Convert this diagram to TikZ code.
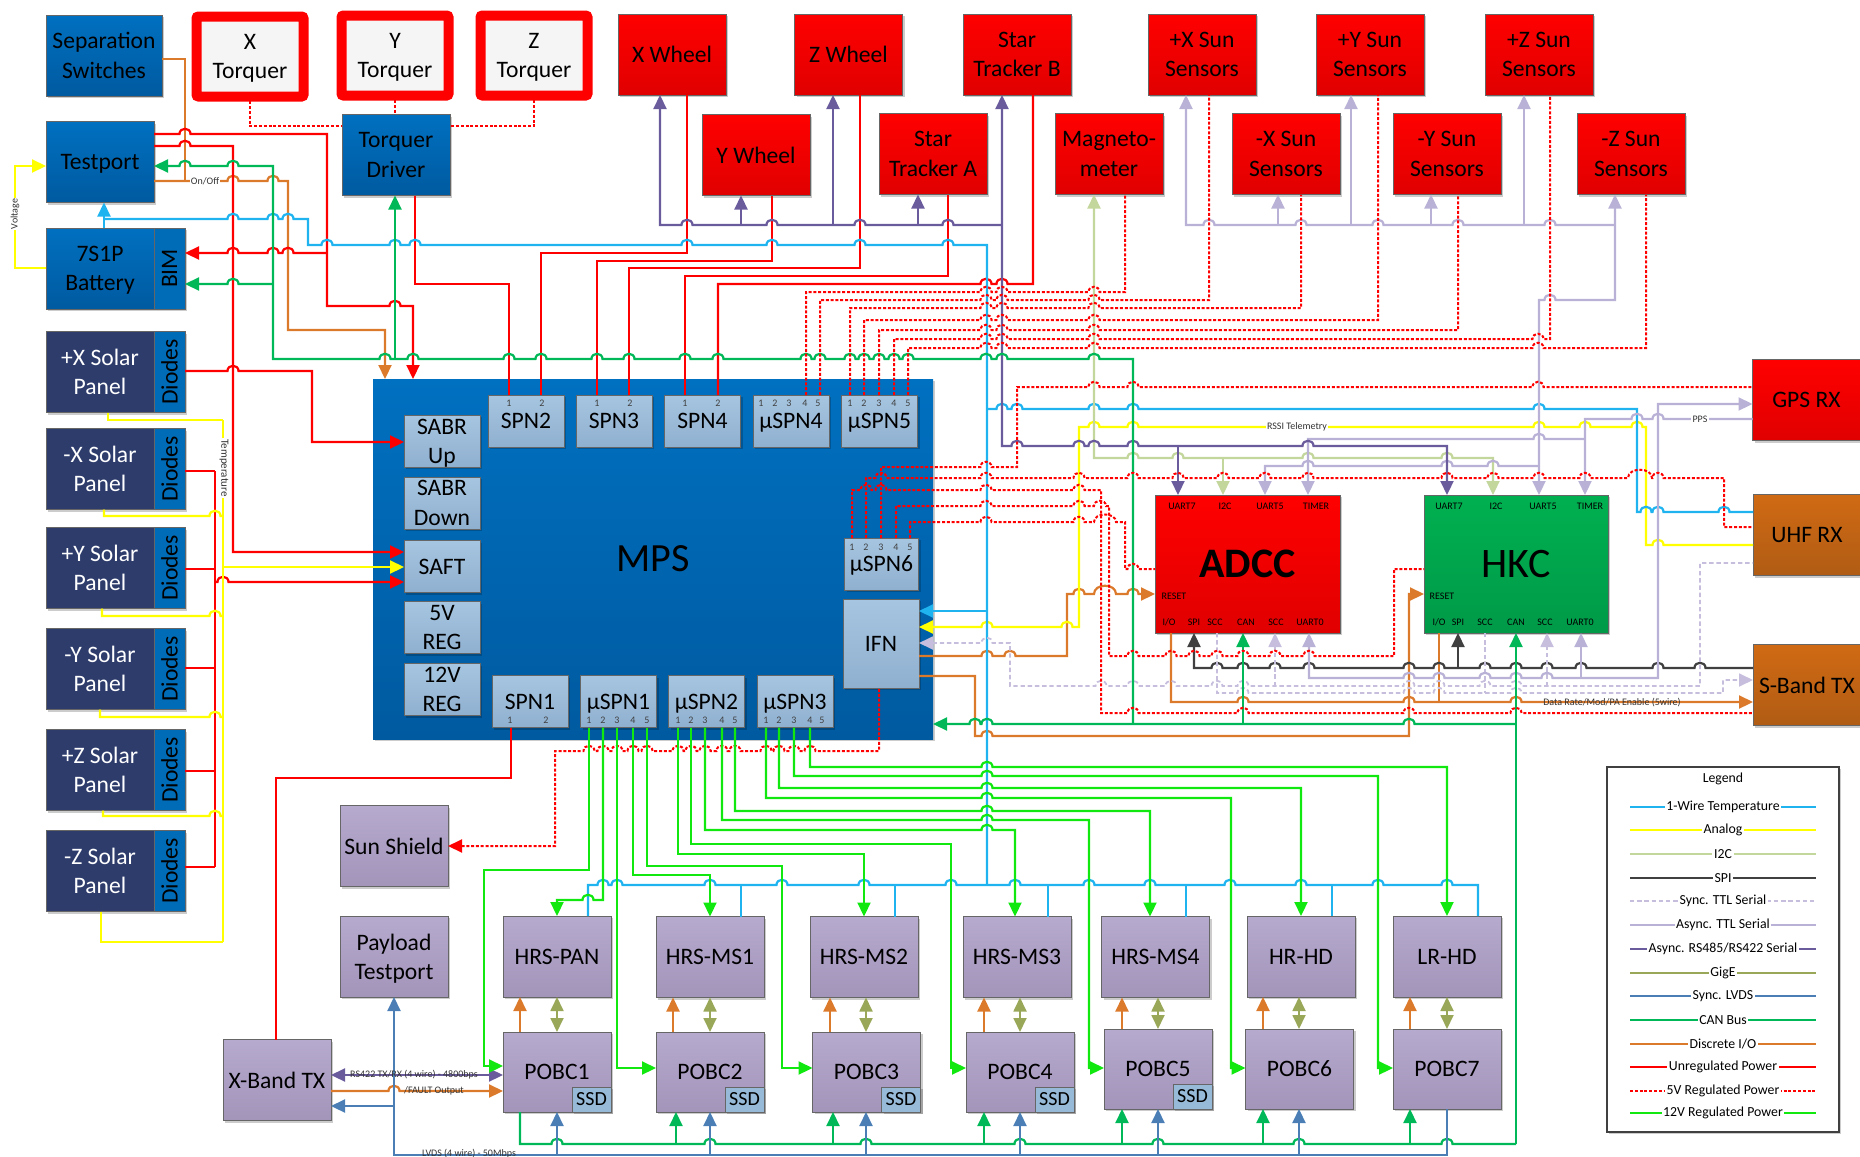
\documentclass[tikz,border=0pt]{standalone}
\usepackage{fontspec}
\setmainfont{Carlito}
\usetikzlibrary{arrows.meta, positioning, shadows}

\definecolor{tempblue}{HTML}{1FB4F0}
\definecolor{analogy}{HTML}{FFFF00}
\definecolor{itwoc}{HTML}{C3D69B}
\definecolor{spigray}{HTML}{404040}
\definecolor{synclav}{HTML}{C6BEDC}
\definecolor{asynclav}{HTML}{B9B2D6}
\definecolor{rspurple}{HTML}{6A5B9C}
\definecolor{gigeolive}{HTML}{98A858}
\definecolor{lvdsblue}{HTML}{4A7EB5}
\definecolor{canblue}{HTML}{00B858}
\definecolor{dioorange}{HTML}{DC7A2C}
\definecolor{twelvegreen}{HTML}{10E810}

\newcommand\boxfont{\fontsize{11.8}{14.6}\selectfont}
\newcommand\pinfont{\fontsize{5}{6}\selectfont}
\newcommand\hop[2]{foreach \hx in {#2} { -- (\hx-5.5,#1) .. controls (\hx-5.5,#1-7) and (\hx+5.5,#1-7) .. (\hx+5.5,#1) }}

\begin{document}
\begin{tikzpicture}[
    x=0.5pt, y=-0.5pt,
    block/.style={
        rectangle,
        draw=gray!80!black,
        line width=0.4pt,
        inner sep=0pt,
        outer sep=0pt,
        minimum width=54pt,
        minimum height=40.5pt,
        align=center,
        font=\boxfont,
        drop shadow={shadow xshift=1.2pt, shadow yshift=-1.2pt, fill=black, opacity=0.2}
    },
    redblock/.style={block, top color=red, bottom color=red!88!black},
    blueblock/.style={block, top color={rgb,255:red,0;green,112;blue,192}, bottom color={rgb,255:red,0;green,90;blue,160}},
    orangeblock/.style={block, top color={rgb,255:red,208;green,106;blue,20}, bottom color={rgb,255:red,176;green,92;blue,20}},
    purpleblock/.style={block, top color={rgb,255:red,182;green,170;blue,206}, bottom color={rgb,255:red,163;green,148;blue,186}},
    subblock/.style={block, minimum width=38pt, minimum height=26pt, top color={rgb,255:red,166;green,197;blue,224}, bottom color={rgb,255:red,144;green,176;blue,208}},
    solarblock/.style={block, fill={rgb,255:red,46;green,60;blue,108}, text=white},
    sideblock/.style={block, minimum width=15.5pt, fill={rgb,255:red,0;green,108;blue,184}},
    torquer/.style={block, fill=white!96!black, draw=red, line width=5pt, rounded corners=1pt, minimum width=53.5pt, minimum height=40pt, text depth=0pt},
    ssdblock/.style={block, minimum width=19.5pt, minimum height=12.5pt, fill={rgb,255:red,150;green,186;blue,216}, font=\fontsize{10}{12}\selectfont, anchor=south east},
    pinlabel/.style={inner sep=0pt, font=\pinfont, text=black!75},
    wirelabel/.style={inner sep=0.6pt, font=\pinfont, text=black!80},
    legendlabel/.style={inner sep=0.8pt, fill=white, font=\fontsize{6.9}{8}\selectfont},
    wire/.style={line width=1.1pt, line join=miter},
    wiretemp/.style={wire, draw=tempblue},
    wireanalog/.style={wire, draw=analogy},
    wirei2c/.style={wire, draw=itwoc},
    wirespi/.style={wire, draw=spigray},
    wiresync/.style={wire, draw=synclav, line width=0.9pt, dash pattern=on 2.2pt off 1.4pt},
    wireasync/.style={wire, draw=asynclav},
    wirers/.style={wire, draw=rspurple},
    wiregige/.style={wire, draw=gigeolive, line width=0.9pt},
    wirelvds/.style={wire, draw=lvdsblue},
    wirecan/.style={wire, draw=canblue},
    wiredio/.style={wire, draw=dioorange},
    wirepwr/.style={wire, draw=red},
    wirefive/.style={wire, draw=red, line width=1pt, dash pattern=on 1.5pt off 0.9pt},
    wiretwelve/.style={wire, draw=twelvegreen},
    endtip/.style={-{Triangle[length=7pt, width=6.5pt]}},
    starttip/.style={{Triangle[length=7pt, width=6.5pt]}-},
    bothtips/.style={{Triangle[length=7pt, width=6.5pt]}-{Triangle[length=7pt, width=6.5pt]}}
]
    \useasboundingbox (0,0) rectangle (1860,1157);

    % Nodes
    \node [blueblock, minimum width=58pt] (sepsw) at (104,55.5) {Separation\\Switches};
    \node [torquer] (tqx) at (250,56.5) {X\\Torquer};
    \node [torquer] (tqy) at (395,55.5) {Y\\Torquer};
    \node [torquer] (tqz) at (534,55.5) {Z\\Torquer};
    \node [blueblock, text depth=0pt] (testport) at (100,162) {Testport};
    \node [blueblock] (tqdriver) at (396,155) {Torquer\\Driver};
    \node [blueblock, text depth=0pt] (battery) at (100,268.5) {7S1P\\Battery};
    \node [sideblock, right=0pt of battery] (bim) {\rotatebox{90}{BIM}};

    \foreach \n/\t/\y in {xp/+X/372, xm/-X/469, yp/+Y/568, ym/-Y/669, zp/+Z/770, zm/-Z/871} {
        \node [solarblock] (solar\n) at (100,\y) {\t\ Solar\\Panel};
        \node [sideblock, right=0pt of solar\n] (diode\n) {\rotatebox{90}{Diodes}};
    }

    \node [redblock] (wheelx) at (672,54.5) {X Wheel};
    \node [redblock] (wheely) at (756,155) {Y Wheel};
    \node [redblock] (wheelz) at (848.5,54.5) {Z Wheel};
    \node [redblock] (stara) at (933,154) {Star\\Tracker A};
    \node [redblock] (starb) at (1017,54.5) {Star\\Tracker B};
    \node [redblock] (magneto) at (1109,154) {Magneto-\\meter};
    \node [redblock] (sunxp) at (1202,54.5) {+X Sun\\Sensors};
    \node [redblock] (sunxm) at (1286,154) {-X Sun\\Sensors};
    \node [redblock] (sunyp) at (1370,54.5) {+Y Sun\\Sensors};
    \node [redblock] (sunym) at (1447,154) {-Y Sun\\Sensors};
    \node [redblock] (sunzp) at (1539,54.5) {+Z Sun\\Sensors};
    \node [redblock] (sunzm) at (1631,154) {-Z Sun\\Sensors};

    \node [redblock] (gps) at (1806.5,400) {GPS RX};
    \node [orangeblock] (uhf) at (1807,535) {UHF RX};
    \node [orangeblock] (sband) at (1807,685) {S-Band TX};

    \node [redblock, minimum width=92.5pt, minimum height=69pt, font=\fontsize{21}{25}\selectfont\bfseries] (adcc) at (1247.5,564) {ADCC};
    \node [block, top color={rgb,255:red,0;green,176;blue,80}, bottom color={rgb,255:red,0;green,154;blue,72}, minimum width=92pt, minimum height=69pt, font=\fontsize{21}{25}\selectfont] (hkc) at (1516,564) {HKC};

    \node [blueblock, draw=none, minimum width=280pt, minimum height=180pt, font=\fontsize{20}{24}\selectfont] (mps) at (653,559) {MPS};
    \node [subblock, text depth=0pt] (sabrup) at (442,441) {SABR\\Up};
    \node [subblock] (sabrdown) at (442,503) {SABR\\Down};
    \node [subblock] (saft) at (442,566.5) {SAFT};
    \node [subblock] (regfive) at (442,627.5) {5V\\REG};
    \node [subblock] (regtwelve) at (442,689.5) {12V\\REG};
    \node [subblock] (spn2) at (526,421) {SPN2};
    \node [subblock] (spn3) at (614,421) {SPN3};
    \node [subblock] (spn4) at (702.5,421) {SPN4};
    \node [subblock, text depth=0pt] (uspn4) at (791,421) {µSPN4};
    \node [subblock, text depth=0pt] (uspn5) at (879.5,421) {µSPN5};
    \node [subblock, text depth=0pt, minimum width=37pt] (uspn6) at (881.5,564) {µSPN6};
    \node [subblock, minimum height=44.5pt] (ifn) at (881,643.5) {IFN};
    \node [subblock] (spn1) at (530,701.5) {SPN1};
    \node [subblock, text depth=0pt] (uspn1) at (618.5,701.5) {µSPN1};
    \node [subblock, text depth=0pt] (uspn2) at (706.5,701.5) {µSPN2};
    \node [subblock, text depth=0pt] (uspn3) at (795,701.5) {µSPN3};

    \foreach \x/\t in {509/1, 542/2, 597/1, 630/2, 685/1, 718/2, 761/1, 775/2, 789/3, 805/4, 818/5, 850/1, 864/2, 879/3, 894/4, 908/5}
        \node [pinlabel] (ptop\x) at (\x,403) {\t};
    \foreach \x/\t in {852/1, 866/2, 881/3, 896/4, 910/5}
        \node [pinlabel] (pmid\x) at (\x,547) {\t};
    \foreach \x/\t in {510/1, 546/2, 589/1, 603/2, 617/3, 633/4, 647/5, 678/1, 691/2, 705/3, 722/4, 735/5, 766/1, 779/2, 794/3, 810/4, 822/5}
        \node [pinlabel] (pbot\x) at (\x,720) {\t};

    \foreach \x/\t in {1182/UART7, 1225/I2C, 1270/UART5, 1316/TIMER, 1449/UART7, 1496/I2C, 1543/UART5, 1590/TIMER}
        \node [pinlabel, text=black] (ptop\x) at (\x,506) {\t};
    \foreach \x/\t in {1169/I\slash O, 1194/SPI, 1215/SCC, 1246/CAN, 1276/SCC, 1310/UART0, 1439/I\slash O, 1458/SPI, 1485/SCC, 1516/CAN, 1545/SCC, 1580/UART0}
        \node [pinlabel, text=black] (pbot\x) at (\x,622) {\t};
    \node [pinlabel, text=black] (adccreset) at (1174,596) {RESET};
    \node [pinlabel, text=black] (hkcreset) at (1442,596) {RESET};

    \node [purpleblock] (sunshield) at (394,846) {Sun Shield};
    \node [purpleblock, text depth=0pt] (payload) at (394,956.5) {Payload\\Testport};
    \node [purpleblock] (xband) at (277,1080) {X-Band TX};
    \node [purpleblock] (hrspan) at (557,956.5) {HRS-PAN};
    \node [purpleblock] (hrsms1) at (710,957) {HRS-MS1};
    \node [purpleblock] (hrsms2) at (864,957) {HRS-MS2};
    \node [purpleblock] (hrsms3) at (1017,957) {HRS-MS3};
    \node [purpleblock] (hrsms4) at (1155.5,957) {HRS-MS4};
    \node [purpleblock] (hrhd) at (1301,956.5) {HR-HD};
    \node [purpleblock] (lrhd) at (1447,956.5) {LR-HD};
    \node [purpleblock, minimum height=40pt] (pobc1) at (557,1072) {POBC1};
    \node [purpleblock, minimum height=40pt] (pobc2) at (710,1072) {POBC2};
    \node [purpleblock, minimum height=40pt] (pobc3) at (866.5,1072) {POBC3};
    \node [purpleblock, minimum height=40pt] (pobc4) at (1020,1072) {POBC4};
    \node [purpleblock, minimum height=40pt] (pobc5) at (1158,1069) {POBC5};
    \node [purpleblock, minimum height=40pt] (pobc6) at (1299.5,1069) {POBC6};
    \node [purpleblock, minimum height=40pt] (pobc7) at (1447,1069) {POBC7};
    \foreach \n in {1,2,3,4,5}
        \node [ssdblock] (ssd\n) at (pobc\n.south east) {SSD};

    % Discrete I/O
    \draw [wiredio] (sepsw.east |- 0,59) -- (185,59) -- (185,181);
    \draw [wiredio, endtip] (testport.east |- 0,181) \hop{181}{233,273} -- (288,181) -- (288,330) -- (385,330) -- (385,0 |- mps.north);
    \draw [wiredio, endtip] (ifn.east |- 0,656) \hop{656}{987,1010} -- (1067,656) -- (1067,594) \hop{594}{1079} -- (1094,594) .. controls (1094,583) and (1116,583) .. (1116,594) \hop{594}{1133} -- (adcc.west |- 0,594);
    \draw [wiredio, endtip] (ifn.east |- 0,676) -- (975,676) -- (975,736) \hop{736}{987} -- (1409,736) -- (1409,594) -- (hkc.west |- 0,594);
    \draw [wiredio, endtip] (1171,0 |- adcc.south) -- (1171,702) \hop{702}{1243,1409,1516} -- (sband.west |- 0,702);
    \draw [wiredio] (1439,0 |- hkc.south) -- (1439,702);
    \draw [wiredio, endtip] (xband.east |- 0,1091) \hop{1091}{394} -- (pobc1.west |- 0,1091);
    \foreach \a/\b/\x in {pobc1/hrspan/520, pobc2/hrsms1/673, pobc3/hrsms2/830, pobc4/hrsms3/984, pobc5/hrsms4/1122, pobc6/hrhd/1263, pobc7/lrhd/1410}
        \draw [wiredio, endtip] (\x,0 |- \a.north) -- (\x,0 |- \b.south);

    % GigE
    \foreach \a/\b/\x in {pobc1/hrspan/557, pobc2/hrsms1/710, pobc3/hrsms2/866, pobc4/hrsms3/1020, pobc5/hrsms4/1158, pobc6/hrhd/1299, pobc7/lrhd/1447}
        \draw [wiregige, bothtips] (\x,0 |- \a.north) -- (\x,0 |- \b.south);

    % Unregulated power
    \draw [wirepwr, endtip] (testport.east |- 0,134) \hop{134}{185} -- (327,134) -- (327,306) \hop{306}{395} -- (413,306) -- (413,0 |- mps.north);
    \draw [wirepwr, endtip] (testport.east |- 0,146) \hop{146}{185} -- (233,146) -- (233,552) -- (saft.west |- 0,552);
    \draw [wirepwr, starttip] (bim.east |- 0,253) \hop{253}{233,273,288} -- (327,253);
    \draw [wirepwr] (415,0 |- tqdriver.south) -- (415,284) -- (509,284) -- (509,0 |- spn2.north);
    \draw [wirepwr] (541,0 |- spn2.north) -- (541,253) -- (687,253) -- (687,0 |- wheelx.south);
    \draw [wirepwr] (597,0 |- spn3.north) -- (597,261) -- (772,261) -- (772,0 |- wheely.south);
    \draw [wirepwr] (629,0 |- spn3.north) -- (629,268) -- (860,268) -- (860,0 |- wheelz.south);
    \draw [wirepwr] (685,0 |- spn4.north) -- (685,276) -- (948,276) -- (948,0 |- stara.south);
    \draw [wirepwr] (718,0 |- spn4.north) -- (718,284) \hop{284}{986,1002} -- (1033,284) -- (1033,0 |- starb.south);
    \draw [wirepwr, endtip] (diodexp.east |- 0,371) \hop{371}{233} -- (312,371) -- (312,442) -- (sabrup.west |- 0,442);
    \foreach \n/\y in {xm/471, yp/569, ym/668, zp/771, zm/867}
        \draw [wirepwr] (diode\n.east |- 0,\y) -- (215,\y);
    \draw [wirepwr] (215,471) -- (215,867);
    \draw [wirepwr, endtip] (215,582) \hop{582}{223} -- (saft.west |- 0,582);
    \draw [wirepwr] (276,0 |- xband.north) -- (276,778) -- (511,778) -- (511,0 |- spn1.south);

    % Analog
    \draw [wireanalog, endtip] (battery.west |- 0,268) -- (15,268) -- (15,166) -- (testport.west |- 0,166);
    \draw [wireanalog] (223,420) -- (223,942);
    \draw [wireanalog] (108,0 |- solarxp.south) -- (108,420) -- (223,420);
    \draw [wireanalog] (104,0 |- solarxm.south) -- (104,516) \hop{516}{215} -- (223,516);
    \draw [wireanalog] (102,0 |- solaryp.south) -- (102,616) \hop{616}{215} -- (223,616);
    \draw [wireanalog] (100,0 |- solarym.south) -- (100,717) \hop{717}{215} -- (223,717);
    \draw [wireanalog] (103,0 |- solarzp.south) -- (103,816) \hop{816}{215} -- (223,816);
    \draw [wireanalog] (101,0 |- solarzm.south) -- (101,942) -- (223,942);
    \draw [wireanalog, endtip] (223,567) -- (saft.west |- 0,567);
    \draw [wireanalog, starttip] (ifn.east |- 0,627) \hop{627}{987,1067} -- (1079,627) -- (1079,427) \hop{427}{1094,1133,1539,1585,1637} -- (1646,427) -- (1646,545) \hop{545}{1658} -- (uhf.west |- 0,545);

    % 1-Wire temperature
    \draw [wiretemp, endtip] (104,0 |- battery.north) -- (104,0 |- testport.south);
    \draw [wiretemp] (104,219) \hop{219}{233,273,288} -- (308,219) -- (308,245) \hop{245}{327,395,415,687,772,860,948} -- (987,245) -- (987,885);
    \draw [wiretemp, starttip] (ifn.east |- 0,611) -- (987,611);
    \draw [wiretemp] (987,409) \hop{409}{1002,1017,1094,1133,1539} -- (1637,409) -- (1637,512) \hop{512}{1646,1658,1724} -- (uhf.west |- 0,512);
    \draw [wiretemp] (588,0 |- hrspan.north) -- (588,885) \hop{885}{603,617,710,782,864,951,1015,1089,1150,1230,1301,1378,1447} -- (1478,885) -- (1478,0 |- lrhd.north);
    \foreach \n/\x in {hrsms1/741, hrsms2/895, hrsms3/1048, hrsms4/1186, hrhd/1332}
        \draw [wiretemp] (\x,885) -- (\x,0 |- \n.north);

    % I2C
    \draw [wirei2c, bothtips] (1094,0 |- magneto.south) -- (1094,458) \hop{458}{1133,1178,1308,1447} -- (1493,458) -- (1493,0 |- hkc.north);
    \draw [wirei2c, endtip] (1223,458) -- (1223,0 |- adcc.north);

    % SPI
    \draw [wirespi, starttip] (1194,0 |- adcc.south) -- (1194,668) \hop{668}{1217,1243,1275,1309,1409,1439,1485,1516,1547,1581,1658,1700} -- (sband.west |- 0,668);
    \draw [wirespi, endtip] (1458,668) -- (1458,0 |- hkc.south);

    % Sync TTL serial
    \draw [wiresync, starttip] (ifn.east |- 0,643) \hop{643}{987} -- (1010,643) -- (1010,686) \hop{686}{1101,1133,1171,1217,1243,1409,1439,1485,1516} -- (1700,686) -- (1700,563) -- (uhf.west |- 0,563);
    \draw [wiresync, endtip] (1275,686) -- (1275,0 |- adcc.south);
    \draw [wiresync, endtip] (1547,686) -- (1547,0 |- hkc.south);
    \draw [wiresync, endtip] (1217,0 |- adcc.south) -- (1217,693) \hop{693}{1243,1409,1439,1516} -- (1723,693) -- (1723,680) -- (sband.west |- 0,680);
    \draw [wiresync] (1485,0 |- hkc.south) -- (1485,693);

    % Async TTL serial
    \draw [wireasync, starttip] (1186,0 |- sunxp.south) -- (1186,225) \hop{225}{1209,1301,1378,1458,1550} -- (1615,225);
    \foreach \n/\x in {sunxm/1278, sunyp/1351, sunym/1431, sunzp/1524}
        \draw [wireasync, endtip] (\x,225) -- (\x,0 |- \n.south);
    \draw [wireasync, bothtips] (1539,0 |- hkc.north) -- (1539,300) \hop{300}{1550} -- (1615,300) -- (1615,0 |- sunzm.south);
    \draw [wireasync, starttip] (1265,0 |- adcc.north) -- (1265,466) \hop{466}{1308,1447,1493} -- (1539,466);
    \draw [wireasync, starttip] (1308,0 |- adcc.north) -- (1308,439) \hop{439}{1539} -- (1585,439);
    \draw [wireasync, starttip] (1585,0 |- hkc.north) -- (1585,419) \hop{419}{1637,1658} -- (gps.west |- 0,419);
    \draw [wireasync, bothtips] (1309,0 |- adcc.south) -- (1309,678) \hop{678}{1409,1439,1485,1516,1547} -- (1658,678) -- (1658,404) -- (gps.west |- 0,404);
    \draw [wireasync, endtip] (1581,678) -- (1581,0 |- hkc.south);

    % Async RS485/RS422
    \draw [wirers, starttip] (660,0 |- wheelx.south) -- (660,225) \hop{225}{687,772,860,948} -- (1002,225);
    \foreach \n/\x in {wheely/741, wheelz/833, stara/918}
        \draw [wirers, endtip] (\x,225) -- (\x,0 |- \n.south);
    \draw [wirers, bothtips] (1002,0 |- starb.south) -- (1002,446) \hop{446}{1017,1079,1094,1133,1308} -- (1447,446) -- (1447,0 |- hkc.north);
    \draw [wirers, endtip] (1178,446) -- (1178,0 |- adcc.north);
    \draw [wirers, bothtips] (xband.east |- 0,1075) -- (pobc1.west |- 0,1075);

    % CAN bus
    \draw [wirecan, starttip] (testport.east |- 0,166) \hop{166}{185,233} -- (273,166) -- (273,359) \hop{359}{385,413,509,541,597,629,685,718,806,820,850,864,879,894,908,986,1002,1094} -- (1133,359) -- (1133,724);
    \draw [wirecan, starttip] (bim.east |- 0,284) \hop{284}{233} -- (273,284);
    \draw [wirecan, endtip] (395,359) -- (395,0 |- tqdriver.south);
    \draw [wirecan, starttip] (mps.east |- 0,724) \hop{724}{975,987,1409} -- (1516,724);
    \draw [wirecan, endtip] (1243,724) -- (1243,0 |- adcc.south);
    \draw [wirecan, endtip] (1516,1144) -- (1516,0 |- hkc.south);
    \draw [wirecan] (520,0 |- pobc1.south) -- (520,1144) \hop{1144}{557,710,866,1020,1158,1299,1447} -- (1516,1144);
    \foreach \n/\x in {pobc2/676, pobc3/833, pobc4/984, pobc5/1122, pobc6/1263, pobc7/1410}
        \draw [wirecan, endtip] (\x,1144) -- (\x,0 |- \n.south);

    % Sync LVDS
    \draw [wirelvds, starttip] (394,0 |- payload.south) -- (394,1155) -- (1447,1155) -- (1447,0 |- pobc7.south);
    \draw [wirelvds, endtip] (394,1106) -- (xband.east |- 0,1106);
    \foreach \n/\x in {pobc1/557, pobc2/710, pobc3/866, pobc4/1020, pobc5/1158, pobc6/1299}
        \draw [wirelvds, endtip] (\x,1155) -- (\x,0 |- \n.south);

    % 5V regulated power
    \draw [wirefive] (250,0 |- tqx.south) -- (250,126) -- (tqdriver.west |- 0,126);
    \draw [wirefive] (395,0 |- tqy.south) -- (395,0 |- tqdriver.north);
    \draw [wirefive] (534,0 |- tqz.south) -- (534,126) -- (tqdriver.east |- 0,126);
    \foreach \s/\x/\y/\xe/\n in {uspn4/806/292/1125/magneto, uspn4/820/300/1209/sunxp, uspn5/850/308/1301/sunxm, uspn5/864/320/1378/sunyp, uspn5/879/330/1458/sunym}
        \draw [wirefive] (\x,0 |- \s.north) -- (\x,\y) \hop{\y}{986,1002,1094} -- (\xe,\y) -- (\xe,0 |- \n.south);
    \draw [wirefive] (894,0 |- uspn5.north) -- (894,339) \hop{339}{986,1002,1094,1538} -- (1550,339) -- (1550,0 |- sunzp.south);
    \draw [wirefive] (908,0 |- uspn5.north) -- (908,348) \hop{348}{986,1002,1094,1538} -- (1646,348) -- (1646,0 |- sunzm.south);
    \draw [wirefive] (881,0 |- uspn6.north) -- (881,467) \hop{467}{986} -- (1017,467) -- (1017,387) \hop{387}{1094,1133,1538} -- (gps.west |- 0,387);
    \draw [wirefive] (866,0 |- uspn6.north) -- (866,478) \hop{478}{881,986,1079,1133,1178,1223,1265,1308,1447,1493,1539,1585} -- (1628,478) .. controls (1628,467) and (1652,467) .. (1652,478) \hop{478}{1658} -- (1724,478) -- (1724,527) -- (uhf.west |- 0,527);
    \draw [wirefive] (852,0 |- uspn6.north) -- (852,490) \hop{490}{866,881,986,1079} -- (1101,490) -- (1101,713) \hop{713}{1133,1243,1409,1516} -- (sband.west |- 0,713);
    \draw [wirefive] (896,0 |- uspn6.north) -- (896,506) \hop{506}{986,1079} -- (1094,506) .. controls (1094,499) and (1106,499) .. (1106,506) -- (1109,506) -- (1109,656) \hop{656}{1133,1171,1194,1217,1243,1275,1309} -- (1394,656) -- (1394,569) -- (hkc.west |- 0,569);
    \draw [wirefive] (910,0 |- uspn6.north) -- (910,522) \hop{522}{986,1079} -- (1094,522) .. controls (1094,512) and (1116,512) .. (1116,522) -- (1125,522) -- (1125,569) \hop{569}{1133} -- (adcc.west |- 0,569);
    \draw [wirefive, starttip] (sunshield.east |- 0,846) -- (555,846) -- (555,751) \hop{751}{589,603,617,633,647,678,691,705,722,735,766,779,794,810} -- (879,751) -- (879,0 |- ifn.south);

    % 12V regulated power
    \draw [wiretwelve, endtip] (589,0 |- uspn1.south) -- (589,870) -- (484,870) -- (484,1066) -- (pobc1.west |- 0,1066);
    \draw [wiretwelve, starttip] (557,0 |- hrspan.north) -- (557,900) \hop{900}{588} -- (603,900) -- (603,0 |- uspn1.south);
    \draw [wiretwelve, endtip] (617,0 |- uspn1.south) -- (617,1068) -- (pobc2.west |- 0,1068);
    \foreach \s/\x/\y/\xe/\n in {uspn1/633/875/710/hrsms1, uspn2/678/854/864/hrsms2}
        \draw [wiretwelve, endtip] (\x,0 |- \s.south) -- (\x,\y) -- (\xe,\y) -- (\xe,0 |- \n.north);
    \foreach \s/\x/\y/\xe/\n in {uspn2/705/830/1015/hrsms3, uspn2/735/811/1150/hrsms4, uspn3/779/788/1301/hrhd, uspn3/810/767/1447/lrhd}
        \draw [wiretwelve, endtip] (\x,0 |- \s.south) -- (\x,\y) \hop{\y}{987} -- (\xe,\y) -- (\xe,0 |- \n.north);
    \foreach \s/\x/\y/\xe/\n in {uspn1/647/866/782/pobc3, uspn2/691/844/951/pobc4}
        \draw [wiretwelve, endtip] (\x,0 |- \s.south) -- (\x,\y) -- (\xe,\y) -- (\xe,1068) -- (\n.west |- 0,1068);
    \foreach \s/\x/\y/\xe/\n in {uspn2/722/820/1089/pobc5, uspn3/766/798/1231/pobc6, uspn3/794/776/1378/pobc7}
        \draw [wiretwelve, endtip] (\x,0 |- \s.south) -- (\x,\y) \hop{\y}{987} -- (\xe,\y) -- (\xe,1068) -- (\n.west |- 0,1068);

    % Labels
    \node [wirelabel, fill=white] (onoff) at (205,181) {On/Off};
    \node [wirelabel, fill=white, rotate=90] (voltage) at (15,214) {Voltage};
    \node [wirelabel, fill=white, rotate=-90, font=\fontsize{5.5}{6}\selectfont] (temperature) at (224,468) {Temperature};
    \node [wirelabel, fill=white] (rssi) at (1297,427) {RSSI Telemetry};
    \node [wirelabel, fill=white] (pps) at (1700,419) {PPS};
    \node [wirelabel] (datarate) at (1612,703) {Data Rate/Mod/PA Enable (5wire)};
    \node [wirelabel] (rslabel) at (414,1075) {RS422 TX/RX (4 wire) - 4800bps};
    \node [wirelabel] (faultlabel) at (434,1091) {/FAULT Output};
    \node [wirelabel] (lvdslabel) at (469,1154) {LVDS (4 wire) - 50Mbps};

    % Legend
    \node [block, fill=white, draw=black!75, line width=1.2pt, minimum width=116pt, minimum height=182.5pt] (legend) at (1723,949.5) {};
    \node [legendlabel] (legendtitle) at (1723,779) {Legend};
    \foreach \y/\s/\t in {807/wiretemp/1-Wire Temperature, 830/wireanalog/Analog, 854/wirei2c/I2C, 878/wirespi/SPI, 901/wiresync/Sync. TTL Serial, 925/wireasync/Async. TTL Serial, 949/wirers/Async. RS485\slash RS422 Serial, 973/wiregige/GigE, 996/wirelvds/Sync. LVDS, 1020/wirecan/CAN Bus, 1044/wiredio/Discrete I\slash O, 1067/wirepwr/Unregulated Power, 1091/wirefive/5V Regulated Power, 1113/wiretwelve/12V Regulated Power} {
        \coordinate (legendl\y) at (1630,\y);
        \coordinate (legendr\y) at (1816,\y);
        \draw [\s] (legendl\y) -- (legendr\y);
        \node [legendlabel] (legend\y) at (1723,\y) {\t};
    }
\end{tikzpicture}
\end{document}
